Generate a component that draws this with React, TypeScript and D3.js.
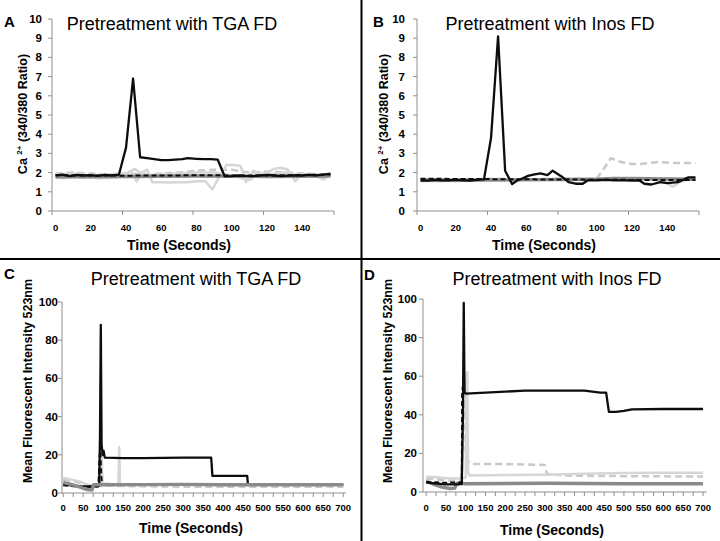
import React from 'react';
import * as d3 from 'd3';

type Pt = [number, number];

// ---- tick labels ----
const CA_Y_TICKS = [0, 1, 2, 3, 4, 5, 6, 7, 8, 9, 10];
const CA_X_LABELS = [0, 20, 40, 60, 80, 100, 120, 140];
const CA_X_TICKMARKS = [-2, 38, 78, 118, 158];
const FL_Y_TICKS = [0, 20, 40, 60, 80, 100];
const FL_X_LABELS = [0, 50, 100, 150, 200, 250, 300, 350, 400, 450, 500, 550, 600, 650, 700];
const FL_X_TICKMARKS = [0, 25, 50, 75, 100, 125, 150, 175, 200, 225, 250, 275, 300, 325, 350, 375, 400, 425, 450, 475, 500, 525, 550, 575, 600, 625, 650, 675, 700];

// ---- Panel A: Ca2+ ratio, TGA FD ----
const A_BLACK: Pt[] = [[0,1.85],[4,1.9],[8,1.82],[12,1.88],[16,1.85],[20,1.87],[24,1.83],[28,1.88],[32,1.85],[36,1.9],[40,3.3],[44,6.9],[48,2.8],[52,2.75],[56,2.7],[60,2.65],[64,2.65],[68,2.68],[72,2.7],[75,2.75],[80,2.72],[84,2.7],[88,2.7],[92,2.68],[96,1.8],[100,1.82],[104,1.85],[108,1.83],[112,1.82],[116,1.85],[120,1.88],[124,1.85],[128,1.82],[132,1.84],[136,1.86],[140,1.85],[144,1.88],[148,1.85],[152,1.9],[156,1.95]];
const A_BLACK_DASH: Pt[] = [[0,1.86],[40,1.84],[80,1.86],[120,1.85],[156,1.9]];
const A_DARK: Pt[] = [[0,1.78],[40,1.8],[80,1.82],[120,1.8],[156,1.82]];
const A_LIGHT: Pt[] = [[0,1.75],[5,1.7],[10,1.78],[15,1.72],[20,1.75],[25,1.7],[30,1.72],[35,1.75],[40,1.95],[43,2.05],[46,1.55],[49,2.0],[52,2.15],[55,1.5],[60,1.5],[65,1.48],[70,1.5],[75,1.5],[80,1.55],[85,1.55],[89,1.12],[93,1.8],[97,2.4],[101,2.4],[105,2.35],[108,1.5],[112,2.1],[116,1.95],[120,2.0],[124,2.2],[128,2.25],[132,2.15],[136,1.55],[140,1.95],[144,1.85],[148,1.8],[152,1.65],[156,1.85]];
const A_LIGHT2: Pt[] = [[0,1.9],[10,1.95],[20,1.85],[30,1.9],[40,1.95],[45,2.2],[50,1.85],[60,1.9],[70,1.95],[80,2.0],[90,2.0],[100,1.85],[110,1.6],[115,1.95],[120,1.9],[130,2.0],[140,1.85],[150,1.9],[156,1.85]];
const A_LIGHT_DASH: Pt[] = [[0,1.95],[10,2.0],[20,1.95],[30,1.9],[40,1.95],[50,1.9],[60,1.95],[70,2.0],[80,2.1],[90,2.15],[100,2.15],[110,2.0],[120,2.05],[130,2.0],[140,1.95],[150,1.9],[156,1.9]];

// ---- Panel B: Ca2+ ratio, Inos FD ----
const B_BLACK: Pt[] = [[0,1.6],[4,1.58],[8,1.62],[12,1.6],[16,1.6],[20,1.62],[24,1.6],[28,1.58],[32,1.62],[36,1.65],[40,3.8],[44,9.1],[48,2.1],[52,1.4],[55,1.6],[58,1.7],[61,1.83],[64,1.9],[68,1.96],[72,1.87],[75,2.1],[80,1.8],[84,1.5],[88,1.42],[92,1.42],[95,1.6],[100,1.6],[105,1.62],[110,1.6],[115,1.6],[120,1.58],[124,1.6],[127,1.42],[131,1.38],[136,1.5],[140,1.45],[146,1.5],[152,1.75],[156,1.75]];
const B_BLACK_DASH: Pt[] = [[0,1.68],[40,1.66],[80,1.64],[120,1.62],[156,1.62]];
const B_DARK: Pt[] = [[0,1.6],[50,1.62],[100,1.65],[110,1.7],[130,1.68],[156,1.65]];
const B_LIGHT: Pt[] = [[0,1.55],[30,1.58],[60,1.62],[90,1.68],[110,1.7],[125,1.72],[135,1.6],[140,1.45],[143,1.27],[147,1.5],[152,1.65],[156,1.7]];
const B_LIGHT_DASH: Pt[] = [[0,1.65],[20,1.65],[40,1.68],[60,1.65],[80,1.68],[100,1.7],[104,2.2],[108,2.75],[112,2.6],[116,2.5],[120,2.45],[125,2.45],[130,2.5],[135,2.55],[140,2.52],[145,2.5],[150,2.5],[156,2.5]];

// ---- Panel C: fluorescence, TGA FD ----
const C_BLACK: Pt[] = [[0,4.5],[20,4],[40,3.6],[60,3.5],[88,3.5],[90,4],[92,30],[94,88],[96,25],[99,20],[101,22],[104,18.5],[150,18.3],[200,18.3],[250,18.4],[300,18.5],[350,18.5],[370,18.5],[373,9],[400,9],[450,9],[460,9],[462,4.3],[500,4.3],[600,4.3],[700,4.3]];
const C_BLACK_DASH: Pt[] = [[0,4],[50,3],[88,3.5],[91,20],[93,22],[95,10],[97,4.5],[700,4.5]];
const C_DARK: Pt[] = [[0,5.5],[20,4.5],[40,3.2],[60,1.8],[72,1.5],[76,4.4],[100,4.3],[200,4.4],[300,4.5],[400,4.3],[500,4.3],[600,4.3],[700,4.3]];
const C_LIGHT: Pt[] = [[0,8],[20,7],[40,6],[60,4.5],[75,4],[94,4.2],[96,24],[98,5],[138,4.5],[140,24],[142,4.5],[300,4.3],[700,4.3]];
const C_LIGHT_DASH: Pt[] = [[0,7],[30,6],[60,4],[75,3.5],[100,3.8],[300,3.3],[700,3.3]];

// ---- Panel D: fluorescence, Inos FD ----
const D_BLACK: Pt[] = [[0,5],[20,4.5],[50,4],[80,4],[90,4.2],[93,40],[95,98],[97,52],[100,51],[150,51.5],[200,52],[250,52.5],[300,52.5],[350,52.5],[400,52.5],[420,52],[440,51.5],[455,51.5],[462,41.5],[480,41.5],[500,42],[520,42.8],[600,43],[700,43]];
const D_BLACK_DASH: Pt[] = [[0,5.2],[40,4.8],[88,5],[90,5],[91,52],[93,55]];
const D_DARK: Pt[] = [[0,5.5],[20,4],[40,2.5],[60,1.8],[72,2],[78,4.5],[100,4.3],[300,4.5],[500,4.3],[700,4.3]];
const D_LIGHT: Pt[] = [[0,8],[30,7.5],[60,7],[90,7],[100,7.5],[102,60],[104,62],[106,10],[110,8.5],[200,8.8],[300,9],[400,9.5],[500,9.8],[600,10],[700,10]];
const D_LIGHT_DASH: Pt[] = [[0,7],[30,6.5],[60,6],[90,6],[95,55],[97,57],[100,20],[105,16],[115,14.5],[200,14.5],[300,14],[305,9.5],[350,8.5],[500,8.2],[700,8]];

type Kind = 'black' | 'blackDash' | 'dark' | 'light' | 'lightDash';
const STYLES: Record<Kind, { stroke: string; width: number; dash?: string }> = {
  black: { stroke: '#0d0d0d', width: 2.3 },
  blackDash: { stroke: '#0d0d0d', width: 2, dash: '5,3' },
  dark: { stroke: '#8a8a8a', width: 3.4 },
  light: { stroke: '#d6d6d6', width: 2.5 },
  lightDash: { stroke: '#c9c9c9', width: 2.5, dash: '7,4' },
};

const FONT = "'Liberation Sans', Arial, Helvetica, sans-serif";

interface PanelProps {
  letter: string;
  letterX: number;
  letterY: number;
  title: string;
  titleX: number;
  titleY: number;
  xDomain: [number, number];
  xRange: [number, number];
  yDomain: [number, number];
  yRange: [number, number];
  xLabels: number[];
  xTickMarks: number[];
  yTicks: number[];
  yLabelX: number;
  xLabelY: number;
  xTitleX: number;
  xTitleY: number;
  yTitleX: number;
  yTitleY: number;
  yTitle: React.ReactNode;
  series: { data: Pt[]; kind: Kind }[];
}

function Panel(p: PanelProps) {
  const x = d3.scaleLinear().domain(p.xDomain).range(p.xRange);
  const y = d3.scaleLinear().domain(p.yDomain).range(p.yRange);
  const line = d3.line<Pt>().x((d) => x(d[0])).y((d) => y(d[1]));
  const axisColor = '#8f8f8f';
  const x0 = p.xRange[0];
  const y0 = p.yRange[0];
  return (
    <g>
      <text x={p.letterX} y={p.letterY} fontFamily={FONT} fontWeight="bold" fontSize={15}>{p.letter}</text>
      <text x={p.titleX} y={p.titleY} textAnchor="middle" fontFamily={FONT} fontSize={18}>{p.title}</text>
      {/* axes */}
      <line x1={x0} x2={x0} y1={y0} y2={p.yRange[1]} stroke={axisColor} strokeWidth={1} />
      <line x1={x0} x2={p.xRange[1]} y1={y0} y2={y0} stroke={axisColor} strokeWidth={1} />
      {p.yTicks.map((t) => (
        <g key={'y' + t}>
          <line x1={x0 - 4} x2={x0} y1={y(t)} y2={y(t)} stroke={axisColor} />
          <text x={p.yLabelX} y={y(t) + 4} textAnchor="end" fontFamily={FONT} fontWeight="bold" fontSize={11.5}>{t}</text>
        </g>
      ))}
      {p.xTickMarks.map((t) => (
        <line key={'xm' + t} x1={x(t)} x2={x(t)} y1={y0} y2={y0 + 4} stroke={axisColor} />
      ))}
      {p.xLabels.map((t) => (
        <text key={'xl' + t} x={x(t)} y={p.xLabelY} textAnchor="middle" fontFamily={FONT} fontWeight="bold" fontSize={9.5}>{t}</text>
      ))}
      <text x={p.xTitleX} y={p.xTitleY} textAnchor="middle" fontFamily={FONT} fontWeight="bold" fontSize={14}>Time (Seconds)</text>
      <text transform={`translate(${p.yTitleX},${p.yTitleY}) rotate(-90)`} textAnchor="middle" fontFamily={FONT} fontWeight="bold" fontSize={12.5}>{p.yTitle}</text>
      {/* series */}
      {p.series.map((s, i) => {
        const st = STYLES[s.kind];
        return (
          <path key={i} d={line(s.data) || ''} fill="none" stroke={st.stroke} strokeWidth={st.width} strokeDasharray={st.dash} strokeLinejoin="round" />
        );
      })}
    </g>
  );
}

const caTitle = (
  <>
    Ca <tspan fontSize={8} dy={-5}>2+</tspan><tspan dy={5}> (340/380 Ratio)</tspan>
  </>
);
const flTitle = 'Mean Fluorescent Intensity 523nm';

export default function App() {
  return (
    <svg width={720} height={541} style={{ position: 'absolute', left: 0, top: 0, background: '#fff' }}>
      <rect x={0} y={0} width={720} height={541} fill="#fff" />
      <Panel
        letter="A" letterX={4} letterY={27}
        title="Pretreatment with TGA FD" titleX={172} titleY={30}
        xDomain={[-2, 158]} xRange={[52, 334]} yDomain={[0, 10]} yRange={[211, 19]}
        xLabels={CA_X_LABELS} xTickMarks={CA_X_TICKMARKS} yTicks={CA_Y_TICKS}
        yLabelX={42} xLabelY={231} xTitleX={179} xTitleY={250} yTitleX={27} yTitleY={114}
        yTitle={caTitle}
        series={[
          { data: A_LIGHT_DASH, kind: 'lightDash' },
          { data: A_LIGHT2, kind: 'light' },
          { data: A_LIGHT, kind: 'light' },
          { data: A_DARK, kind: 'dark' },
          { data: A_BLACK_DASH, kind: 'blackDash' },
          { data: A_BLACK, kind: 'black' },
        ]}
      />
      <Panel
        letter="B" letterX={373} letterY={27}
        title="Pretreatment with Inos FD" titleX={550} titleY={30}
        xDomain={[-2, 158]} xRange={[417, 699]} yDomain={[0, 10]} yRange={[211, 19]}
        xLabels={CA_X_LABELS} xTickMarks={CA_X_TICKMARKS} yTicks={CA_Y_TICKS}
        yLabelX={405} xLabelY={231} xTitleX={544} xTitleY={250} yTitleX={388} yTitleY={114}
        yTitle={caTitle}
        series={[
          { data: B_LIGHT_DASH, kind: 'lightDash' },
          { data: B_LIGHT, kind: 'light' },
          { data: B_DARK, kind: 'dark' },
          { data: B_BLACK_DASH, kind: 'blackDash' },
          { data: B_BLACK, kind: 'black' },
        ]}
      />
      <Panel
        letter="C" letterX={4} letterY={279}
        title="Pretreatment with TGA FD" titleX={196} titleY={285}
        xDomain={[-3, 707]} xRange={[62, 346]} yDomain={[0, 100]} yRange={[493, 302]}
        xLabels={FL_X_LABELS} xTickMarks={FL_X_TICKMARKS} yTicks={FL_Y_TICKS}
        yLabelX={58} xLabelY={511} xTitleX={191} xTitleY={533} yTitleX={32} yTitleY={381}
        yTitle={flTitle}
        series={[
          { data: C_LIGHT_DASH, kind: 'lightDash' },
          { data: C_LIGHT, kind: 'light' },
          { data: C_BLACK_DASH, kind: 'blackDash' },
          { data: C_BLACK, kind: 'black' },
          { data: C_DARK, kind: 'dark' },
        ]}
      />
      <Panel
        letter="D" letterX={364} letterY={280}
        title="Pretreatment with Inos FD" titleX={557} titleY={285}
        xDomain={[-8, 710]} xRange={[423, 707]} yDomain={[0, 100]} yRange={[492, 299]}
        xLabels={FL_X_LABELS} xTickMarks={FL_X_TICKMARKS} yTicks={FL_Y_TICKS}
        yLabelX={417} xLabelY={511} xTitleX={552} xTitleY={535} yTitleX={392} yTitleY={381}
        yTitle={flTitle}
        series={[
          { data: D_LIGHT_DASH, kind: 'lightDash' },
          { data: D_LIGHT, kind: 'light' },
          { data: D_DARK, kind: 'dark' },
          { data: D_BLACK_DASH, kind: 'blackDash' },
          { data: D_BLACK, kind: 'black' },
        ]}
      />
      {/* panel dividers */}
      <line x1={361.5} x2={361.5} y1={0} y2={541} stroke="#000" strokeWidth={2} />
      <line x1={0} x2={720} y1={259} y2={259} stroke="#000" strokeWidth={2} />
    </svg>
  );
}
